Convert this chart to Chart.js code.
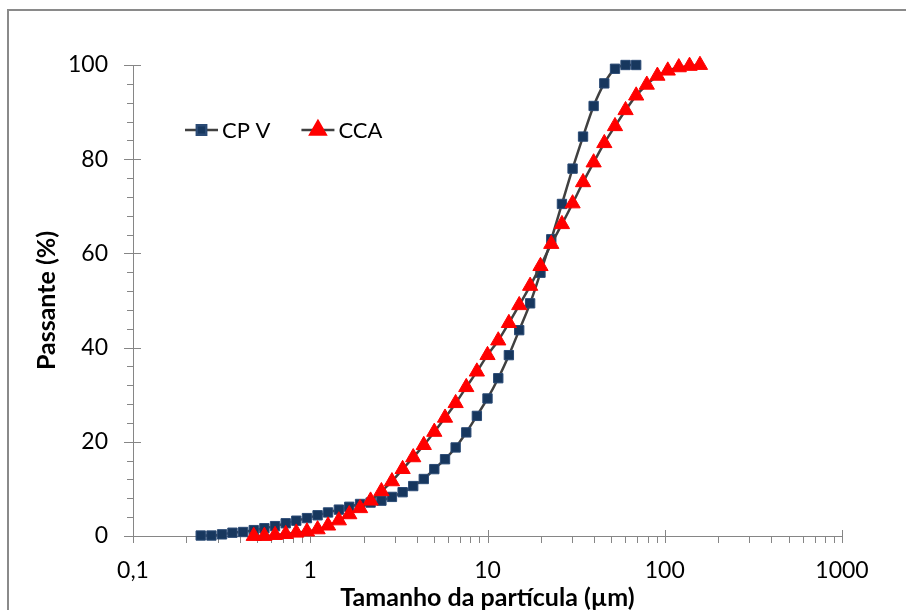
<!DOCTYPE html>
<html>
<head>
<meta charset="utf-8">
<script src="https://cdn.jsdelivr.net/npm/chart.js@4/dist/chart.umd.min.js"></script>
<style>
  html, body { margin: 0; padding: 0; background: #fff; overflow: hidden; }
  #wrap { position: relative; width: 906px; height: 610px; }
  #frame { position: absolute; left: 7px; top: 9px; width: 1000px; height: 1000px;
           border-top: 2px solid #8a8a8a; border-left: 2px solid #8a8a8a; pointer-events: none; }
  canvas { position: absolute; left: 0; top: 0; }
</style>
</head>
<body>
<div id="wrap">
  <canvas id="c" width="906" height="610"></canvas>
  <div id="frame"></div>
</div>
<script>
// ---- data ----
const cpvSize = [0.241, 0.277, 0.318, 0.364, 0.418, 0.480, 0.551, 0.633, 0.727, 0.834,
                 0.958, 1.10, 1.26, 1.45, 1.66, 1.91, 2.19, 2.52, 2.89, 3.32,
                 3.81, 4.37, 5.01, 5.76, 6.61, 7.59, 8.71, 10.0, 11.5, 13.2,
                 15.1, 17.4, 19.9, 22.9, 26.3, 30.2, 34.6, 39.7, 45.6, 52.4,
                 60.1, 69.0];
const cpvPass = [0.1, 0.1, 0.35, 0.7, 0.85, 1.25, 1.65, 2.1, 2.7, 3.25,
                 3.8, 4.4, 5.0, 5.6, 6.2, 6.8, 7.1, 7.5, 8.3, 9.3,
                 10.6, 12.1, 14.2, 16.3, 18.8, 22.0, 25.5, 29.2, 33.5, 38.4,
                 43.7, 49.4, 55.9, 63.0, 70.5, 78.0, 84.8, 91.3, 96.1, 99.2,
                 100, 100];
const ccaSize = [0.480, 0.551, 0.633, 0.727, 0.834, 0.958, 1.10, 1.26, 1.45, 1.66,
                 1.91, 2.19, 2.52, 2.89, 3.32, 3.81, 4.37, 5.01, 5.76, 6.61,
                 7.59, 8.71, 10.0, 11.5, 13.2, 15.1, 17.4, 19.9, 22.9, 26.3,
                 30.2, 34.6, 39.7, 45.6, 52.4, 60.1, 69.0, 79.2, 90.9, 104,
                 120, 138, 158];
const ccaPass = [0, 0, 0.2, 0.4, 0.7, 0.95, 1.4, 2.2, 3.3, 4.6,
                 5.9, 7.5, 9.5, 11.6, 14.2, 16.7, 19.3, 22.1, 25.1, 28.2,
                 31.6, 34.9, 38.4, 41.5, 45.2, 49.0, 53.1, 57.3, 62.0, 66.2,
                 70.6, 75.1, 79.3, 83.4, 87.0, 90.4, 93.5, 95.8, 97.7, 98.8,
                 99.5, 99.8, 100];
const seriesNames = ['CP V', 'CCA'];
const xMajorTicks = [0.1, 1, 10, 100, 1000];
const xTickLabels = ['0,1', '1', '10', '100', '1000'];
const yMajorTicks = [0, 20, 40, 60, 80, 100];
const yTickLabels = ['0', '20', '40', '60', '80', '100'];
const xTitle = 'Tamanho da partícula (µm)';
const yTitle = 'Passante (%)';

// ---- tick positions (majors from arrays, minors 2..9 per decade) ----
const xAllTicks = [];
xMajorTicks.forEach((d, i) => {
  xAllTicks.push(d);
  if (i < xMajorTicks.length - 1) for (let m = 2; m <= 9; m++) xAllTicks.push(+(m * d).toPrecision(3));
});
const yAllTicks = [];
for (let v = 0; v <= 100; v += 4) yAllTicks.push(v);

const FONT = 'Lato, "Open Sans", sans-serif';
const AXIS_COLOR = '#868686';
const LINE_COLOR = '#404040';

const tickMarks = {
  id: 'tickMarks',
  beforeDatasetsDraw(chart) {
    const { ctx, scales: { x, y } } = chart;
    ctx.save();
    ctx.strokeStyle = AXIS_COLOR;
    ctx.lineWidth = 1;
    ctx.beginPath();
    x.ticks.forEach(t => {
      const px = Math.round(x.getPixelForValue(t.value)) + 0.5;
      const major = xMajorTicks.includes(t.value);
      ctx.moveTo(px, y.bottom + (major ? -6 : 0));
      ctx.lineTo(px, y.bottom + 7);
    });
    y.ticks.forEach(t => {
      const py = Math.round(y.getPixelForValue(t.value)) + 0.5;
      const major = yMajorTicks.includes(t.value);
      ctx.moveTo(x.left - (major ? 9 : 6), py);
      ctx.lineTo(x.left + (major ? 8 : 0), py);
    });
    ctx.stroke();
    ctx.restore();
  }
};

const innerLegend = {
  id: 'innerLegend',
  afterDraw(chart) {
    const { ctx } = chart;
    ctx.save();
    ctx.font = '22px ' + FONT;
    ctx.textBaseline = 'middle';
    let xPos = 185;
    const yPos = 130;
    chart.data.datasets.forEach(ds => {
      ctx.strokeStyle = LINE_COLOR;
      ctx.lineWidth = 2.5;
      ctx.beginPath();
      ctx.moveTo(xPos, yPos);
      ctx.lineTo(xPos + 33, yPos);
      ctx.stroke();
      ctx.fillStyle = ds.pointBackgroundColor;
      ctx.strokeStyle = ds.pointBorderColor;
      Chart.helpers.drawPoint(ctx, { pointStyle: ds.pointStyle, radius: ds.pointRadius, rotation: 0, borderWidth: 1 }, xPos + 16.5, yPos);
      ctx.fillStyle = '#000';
      ctx.fillText(ds.label, xPos + 37, yPos + 1);
      xPos = xPos + 37 + ctx.measureText(ds.label).width + 31;
    });
    ctx.restore();
  }
};

new Chart(document.getElementById('c'), {
  type: 'scatter',
  data: {
    datasets: [
      {
        label: seriesNames[0],
        data: cpvSize.map((s, i) => ({ x: s, y: cpvPass[i] })),
        showLine: true,
        borderColor: LINE_COLOR,
        borderWidth: 2.5,
        tension: 0.3,
        pointStyle: 'rect',
        pointRadius: 6.6,
        pointBackgroundColor: '#17375E',
        pointBorderColor: '#2a4a75',
        pointBorderWidth: 1,
        clip: false,
        order: 2
      },
      {
        label: seriesNames[1],
        data: ccaSize.map((s, i) => ({ x: s, y: ccaPass[i] })),
        showLine: true,
        borderColor: LINE_COLOR,
        borderWidth: 2.5,
        tension: 0.3,
        pointStyle: 'triangle',
        pointRadius: 8.8,
        pointBackgroundColor: '#FF0000',
        pointBorderColor: '#FF0000',
        pointBorderWidth: 1,
        clip: false,
        order: 1
      }
    ]
  },
  options: {
    responsive: false,
    animation: false,
    devicePixelRatio: 1,
    layout: { padding: { top: 65, right: 64, bottom: 0, left: 0 } },
    plugins: { legend: { display: false }, tooltip: { enabled: false } },
    scales: {
      x: {
        type: 'logarithmic',
        min: 0.1,
        max: 1000,
        afterBuildTicks: s => { s.ticks = xAllTicks.map(v => ({ value: v })); },
        afterFit: s => { s.height = 74; },
        grid: { display: false, drawTicks: false },
        border: { display: true, color: AXIS_COLOR, width: 1 },
        ticks: {
          autoSkip: false, maxRotation: 0, padding: 21, color: '#000',
          font: { family: FONT, size: 23 },
          callback: v => { const k = xMajorTicks.indexOf(v); return k >= 0 ? xTickLabels[k] : ''; }
        },
        title: { display: true, text: xTitle, color: '#000',
                 font: { family: FONT, size: 25, weight: 'bold' }, padding: { top: 0, bottom: -3 } }
      },
      y: {
        min: 0,
        max: 100,
        afterBuildTicks: s => { s.ticks = yAllTicks.map(v => ({ value: v })); },
        afterFit: s => { s.width = 133; },
        grid: { display: false, drawTicks: false },
        border: { display: true, color: AXIS_COLOR, width: 1 },
        ticks: {
          autoSkip: false, padding: 25, color: '#000',
          font: { family: FONT, size: 23 },
          callback: v => { const k = yMajorTicks.indexOf(v); return k >= 0 ? yTickLabels[k] : ''; }
        },
        title: { display: true, text: yTitle, color: '#000',
                 font: { family: FONT, size: 25, weight: 'bold' }, padding: { top: 32, bottom: 0 } }
      }
    }
  },
  plugins: [tickMarks, innerLegend]
});
</script>
</body>
</html>
